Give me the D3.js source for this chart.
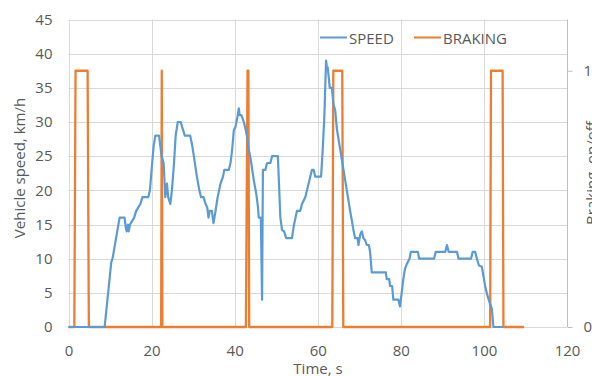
<!DOCTYPE html>
<html>
<head>
<meta charset="utf-8">
<script src="https://cdn.jsdelivr.net/npm/d3@7"></script>
<style>
  html, body { margin: 0; padding: 0; background: #fff; }
  svg { display: block; }
  text { font-family: "Open Sans", sans-serif; fill: #595959; }
</style>
</head>
<body>
<svg id="chart" width="592" height="376"></svg>
<script>
// ---- data ----
const speedTime = [0, 8.7, 10.3, 10.6, 12.3, 13.5, 13.8, 14.0, 14.3, 14.5, 14.8, 15.3, 15.8, 16.3, 16.8, 17.3, 17.8, 19.2, 19.6, 20.0, 20.5, 20.9, 21.8, 22.1, 22.4, 22.9, 23.3, 23.7, 24.0, 24.5, 24.9, 25.4, 25.8, 26.3, 27.0, 27.5, 28.0, 29.3, 29.8, 30.3, 30.9, 31.5, 31.9, 32.5, 33.0, 33.4, 33.7, 34.0, 34.5, 34.9, 35.4, 35.9, 36.6, 37.2, 37.5, 38.6, 39.0, 39.4, 39.8, 40.2, 40.6, 41.0, 41.2, 41.6, 41.8, 42.2, 42.6, 43.0, 43.4, 43.9, 44.6, 45.2, 45.6, 45.8, 46.3, 46.6, 46.8, 47.4, 47.8, 48.6, 49.0, 50.4, 50.7, 51.0, 51.4, 51.9, 52.4, 53.8, 54.2, 55.0, 55.8, 56.2, 57.0, 57.8, 58.6, 59.0, 59.4, 60.8, 61.2, 61.6, 62.0, 62.2, 62.4, 62.9, 63.4, 63.8, 64.2, 64.6, 65.4, 66.2, 67.0, 67.8, 68.6, 69.0, 69.6, 69.8, 70.2, 70.6, 71.0, 71.4, 71.8, 72.3, 72.6, 73.0, 76.4, 76.6, 77.2, 77.4, 77.9, 78.2, 79.4, 79.8, 80.2, 80.6, 81.0, 81.5, 82.1, 82.4, 84.1, 84.4, 88.0, 88.4, 90.7, 91.1, 91.5, 93.5, 93.9, 96.9, 97.3, 97.9, 98.3, 98.8, 99.5, 99.9, 100.3, 100.8, 101.3, 101.9, 102.3, 104.6];
const speedValues = [0, 0, 9.5, 10, 16, 16, 14.5, 14, 15, 14, 15, 15.5, 16, 17, 17.5, 18, 19, 19, 20, 23, 26.5, 28, 28, 26.5, 25, 24, 19, 21, 19, 18, 20, 24, 28, 30, 30, 29, 28, 28, 26.5, 24.5, 22, 20, 19, 19, 18, 17.5, 16, 17, 17, 15.2, 17, 19, 21, 22, 23, 23, 24, 26, 28.8, 29.3, 30.5, 32, 31, 31, 30.7, 30, 29, 27.8, 26, 24.4, 21.5, 19.5, 17.6, 16, 16, 4, 23, 23, 24, 24, 25, 25, 20.5, 16, 14.2, 14, 13, 13, 14.7, 17, 17, 18, 19, 21, 23, 23, 22, 22, 26, 31, 39, 38, 38, 35, 35, 32.5, 31.7, 29, 26, 23, 20, 17, 14.2, 13, 13, 12, 13.5, 14, 13, 12.7, 12, 12, 11, 8, 8, 7, 7, 6, 6, 4, 4, 3, 5, 7, 8.5, 9.3, 10, 11, 11, 10, 10, 11, 11, 12, 11, 11, 10, 10, 11, 11, 10, 9, 8.8, 7.4, 6, 4.7, 3.7, 2.7, 0, 0];

const brakeTime = [0, 1.4, 1.7, 4.6, 4.9, 22.3, 22.45, 22.6, 42.7, 43.1, 43.3, 43.5, 63.5, 63.75, 65.9, 66.15, 101.5, 101.7, 104.5, 104.7, 109.7];
const brakeValues = [0, 0, 1, 1, 0, 0, 1, 0, 0, 1, 1, 0, 0, 1, 1, 0, 0, 1, 1, 0, 0];

const xTicks = [0, 20, 40, 60, 80, 100, 120];
const yTicks = [0, 5, 10, 15, 20, 25, 30, 35, 40, 45];
const y2Ticks = [0, 1];
const seriesNames = ["SPEED", "BRAKING"];
const seriesColors = ["#5B9BD5", "#ED7D31"];
const xTitle = "Time, s";
const yTitle = "Vehicle speed, km/h";
const y2Title = "Braking, on/off";

// ---- layout ----
const svg = d3.select("#chart");
const L = 68.5, R = 567, T = 19.5, B = 327;
const x = d3.scaleLinear().domain([0, 120]).range([L, R]);
const y = d3.scaleLinear().domain([0, 45]).range([B, T]);
const y2 = d3.scaleLinear().domain([0, 1.2]).range([B, T]);

const gridColor = "#D9D9D9";

// horizontal gridlines
svg.append("g").selectAll("line").data(yTicks).join("line")
  .attr("x1", L).attr("x2", R)
  .attr("y1", d => Math.round(y(d)) + 0.5).attr("y2", d => Math.round(y(d)) + 0.5)
  .attr("stroke", gridColor).attr("stroke-width", 1);
// vertical gridlines
svg.append("g").selectAll("line").data(xTicks.slice(0, -1)).join("line")
  .attr("y1", T).attr("y2", B)
  .attr("x1", d => Math.round(x(d)) + 0.5).attr("x2", d => Math.round(x(d)) + 0.5)
  .attr("stroke", gridColor).attr("stroke-width", 1);

// left axis
const gy = svg.append("g").attr("transform", `translate(${L},0)`)
  .call(d3.axisLeft(y).tickValues(yTicks).tickSize(0).tickPadding(16));
gy.select(".domain").remove();
gy.selectAll("text").style("font-size", "15px").style("font-family", "'Open Sans', sans-serif").attr("fill", "#595959");

// bottom axis
const gx = svg.append("g").attr("transform", `translate(0,${B})`)
  .call(d3.axisBottom(x).tickValues(xTicks).tickSize(0).tickPadding(18));
gx.select(".domain").remove();
gx.selectAll("text").style("font-size", "15px").style("font-family", "'Open Sans', sans-serif").attr("fill", "#595959");

// right axis
const gy2 = svg.append("g").attr("transform", `translate(${Math.round(R) + 0.5},0)`)
  .call(d3.axisRight(y2).tickValues(y2Ticks).tickSize(5).tickPadding(11).tickFormat(d3.format("d")));
gy2.select(".domain").attr("stroke", "#BFBFBF").attr("d", `M0,${T}V${B}`);
gy2.selectAll(".tick line").attr("stroke", "#BFBFBF");
gy2.selectAll("text").style("font-size", "15px").style("font-family", "'Open Sans', sans-serif").attr("fill", "#595959");

// series
const speedLine = d3.line().x((d, i) => x(speedTime[i])).y(d => y(d));
const brakeLine = d3.line().x((d, i) => x(brakeTime[i])).y(d => y2(d));

svg.append("path").datum(brakeValues)
  .attr("d", brakeLine).attr("fill", "none")
  .attr("stroke", seriesColors[1]).attr("stroke-width", 2.3).attr("stroke-linejoin", "round");
svg.append("path").datum(speedValues)
  .attr("d", speedLine).attr("fill", "none")
  .attr("stroke", seriesColors[0]).attr("stroke-width", 2.2).attr("stroke-linejoin", "round");

// titles
svg.append("text").attr("transform", "translate(25,168) rotate(-90)")
  .attr("text-anchor", "middle").style("font-size", "15px").text(yTitle);
svg.append("text").attr("x", 318).attr("y", 374)
  .attr("text-anchor", "middle").style("font-size", "15px").text(xTitle);
svg.append("text").attr("transform", "translate(597,173) rotate(-90)")
  .attr("text-anchor", "middle").style("font-size", "15px").text(y2Title);

// legend
const legendX = [320, 414];
const leg = svg.append("g").selectAll("g").data(seriesNames).join("g")
  .attr("transform", (d, i) => `translate(${legendX[i]},0)`);
leg.append("line").attr("x1", 0).attr("x2", 27).attr("y1", 37.5).attr("y2", 37.5)
  .attr("stroke", (d, i) => seriesColors[i]).attr("stroke-width", 2);
leg.append("text").attr("x", 29).attr("y", 44).style("font-size", "15px").text(d => d);
</script>
</body>
</html>
